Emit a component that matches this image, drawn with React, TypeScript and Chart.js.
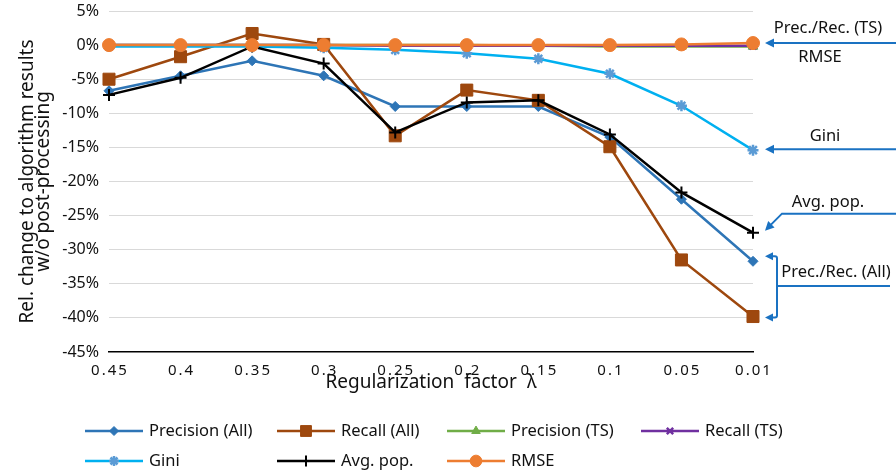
import React, { useEffect, useRef } from 'react';
import { Chart, registerables } from 'chart.js';
import { drawPoint } from 'chart.js/helpers';

Chart.register(...registerables);

// ---------- data ----------
const categories = ['0.45', '0.4', '0.35', '0.3', '0.25', '0.2', '0.15', '0.1', '0.05', '0.01'];
const precisionAll = [-6.7, -4.5, -2.3, -4.5, -9.0, -9.0, -9.0, -13.5, -22.6, -31.7];
const recallAll = [-5.0, -1.7, 1.7, 0.1, -13.3, -6.6, -8.1, -14.9, -31.5, -39.8];
const precisionTS = [0, 0, 0, 0, 0, 0, -0.1, -0.2, -0.2, -0.2];
const recallTS = [0, 0, 0, 0, -0.1, -0.1, -0.1, -0.1, -0.1, -0.1];
const gini = [-0.2, -0.2, -0.2, -0.4, -0.7, -1.2, -2.0, -4.2, -8.9, -15.4];
const avgPop = [-7.3, -4.8, -0.2, -2.7, -12.8, -8.4, -8.1, -13.1, -21.6, -27.5];
const rmse = [0, 0, 0, 0, 0, 0, 0, 0, 0.1, 0.3];

const yMin = -45;
const yMax = 5;
const yStep = 5;

const yTitle = ['Rel. change to algorithm results', 'w/o post-processing'];
const xTitle = 'Regularization  factor  λ';

// ---------- styles ----------
type SeriesStyle = {
  label: string;
  data: number[];
  line: string;
  marker: string;
  pointStyle: string;
  radius: number;
  pbw: number;
};

const series: SeriesStyle[] = [
  { label: 'Precision (All)', data: precisionAll, line: '#2E75B6', marker: '#2E75B6', pointStyle: 'rectRot', radius: 5, pbw: 1 },
  { label: 'Recall (All)', data: recallAll, line: '#9E480E', marker: '#9E480E', pointStyle: 'rect', radius: 8.5, pbw: 1 },
  { label: 'Precision (TS)', data: precisionTS, line: '#70AD47', marker: '#70AD47', pointStyle: 'triangle', radius: 5.5, pbw: 1 },
  { label: 'Recall (TS)', data: recallTS, line: '#7030A0', marker: '#7030A0', pointStyle: 'crossRot', radius: 5, pbw: 2.5 },
  { label: 'Gini', data: gini, line: '#00B0F0', marker: '#5B9BD5', pointStyle: 'star', radius: 5.5, pbw: 2.5 },
  { label: 'Avg. pop.', data: avgPop, line: '#000000', marker: '#000000', pointStyle: 'cross', radius: 6, pbw: 2 },
  { label: 'RMSE', data: rmse, line: '#ED7D31', marker: '#ED7D31', pointStyle: 'circle', radius: 6.5, pbw: 1 },
];

const FONT = '"Noto Sans", "Open Sans", sans-serif';
const ARROW = '#1A72C2';

const legendCols = [85, 277, 447, 641];
const legendRows = [431, 461];
const legendGrid = [
  [0, 0], [1, 0], [2, 0], [3, 0],
  [0, 1], [1, 1], [2, 1],
];

function arrowHead(ctx: CanvasRenderingContext2D, tipX: number, tipY: number, fromX: number, fromY: number, len = 9, half = 4.5) {
  const ang = Math.atan2(tipY - fromY, tipX - fromX);
  ctx.beginPath();
  ctx.moveTo(tipX, tipY);
  ctx.lineTo(tipX - len * Math.cos(ang) + half * Math.sin(ang), tipY - len * Math.sin(ang) - half * Math.cos(ang));
  ctx.lineTo(tipX - len * Math.cos(ang) - half * Math.sin(ang), tipY - len * Math.sin(ang) + half * Math.cos(ang));
  ctx.closePath();
  ctx.fill();
}

const extrasPlugin = {
  id: 'extras',
  afterDraw(chart: any) {
    const ctx: CanvasRenderingContext2D = chart.ctx;
    const xs = chart.scales.x;
    const ys = chart.scales.y;
    const area = chart.chartArea;

    // x tick labels (spaced)
    ctx.save();
    ctx.font = `15px ${FONT}`;
    (ctx as any).letterSpacing = '2px';
    ctx.textAlign = 'center';
    ctx.textBaseline = 'alphabetic';
    ctx.fillStyle = '#111';
    categories.forEach((c, i) => {
      ctx.fillText(c, xs.getPixelForTick(i) + 1, area.bottom + 23);
    });
    ctx.restore();

    // legend
    ctx.save();
    ctx.font = `16.5px ${FONT}`;
    ctx.textBaseline = 'middle';
    ctx.textAlign = 'left';
    series.forEach((s, i) => {
      const [c, r] = legendGrid[i];
      const x0 = legendCols[c];
      const y = legendRows[r];
      ctx.strokeStyle = s.line;
      ctx.lineWidth = 2.5;
      ctx.beginPath();
      ctx.moveTo(x0, y);
      ctx.lineTo(x0 + 58, y);
      ctx.stroke();
      ctx.fillStyle = s.marker;
      ctx.strokeStyle = s.marker;
      ctx.lineWidth = s.pbw;
      drawPoint(ctx, { pointStyle: s.pointStyle as any, radius: s.radius * 0.9, rotation: 0, borderWidth: s.pbw } as any, x0 + 29, y);
      ctx.fillStyle = '#111';
      ctx.fillText(s.label, x0 + 64, y);
    });
    ctx.restore();

    // annotations
    const lastIdx = categories.length - 1;
    const lastX = xs.getPixelForValue(lastIdx);
    const tipX = lastX + 12;
    const W = chart.width;
    ctx.save();
    ctx.strokeStyle = ARROW;
    ctx.fillStyle = ARROW;
    ctx.lineWidth = 2;

    // Prec./Rec. (TS) + RMSE arrow
    const yTS = ys.getPixelForValue(rmse[lastIdx]);
    ctx.beginPath();
    ctx.moveTo(W, yTS);
    ctx.lineTo(tipX + 8, yTS);
    ctx.stroke();
    arrowHead(ctx, tipX, yTS, W, yTS);

    // Gini arrow
    const yG = ys.getPixelForValue(gini[lastIdx]) - 1;
    ctx.beginPath();
    ctx.moveTo(W, yG);
    ctx.lineTo(tipX + 8, yG);
    ctx.stroke();
    arrowHead(ctx, tipX, yG, W, yG);

    // Avg. pop. arrow (elbow)
    const yA = ys.getPixelForValue(avgPop[lastIdx]) - 2;
    const elbowX = tipX + 17;
    const elbowY = yA - 17;
    ctx.beginPath();
    ctx.moveTo(W, elbowY);
    ctx.lineTo(elbowX, elbowY);
    ctx.lineTo(tipX + 6, yA - 6);
    ctx.stroke();
    arrowHead(ctx, tipX, yA, elbowX, elbowY);

    // Prec./Rec. (All) bracket
    const yTop = ys.getPixelForValue(precisionAll[lastIdx]) - 5;
    const yBot = ys.getPixelForValue(recallAll[lastIdx]) + 1;
    const bx = tipX + 12;
    const yMid = (yTop + yBot) / 2 - 1;
    ctx.beginPath();
    ctx.moveTo(tipX + 7, yTop);
    ctx.lineTo(bx - 2, yTop);
    ctx.quadraticCurveTo(bx, yTop, bx, yTop + 2);
    ctx.lineTo(bx, yBot - 2);
    ctx.quadraticCurveTo(bx, yBot, bx - 2, yBot);
    ctx.lineTo(tipX + 7, yBot);
    ctx.stroke();
    arrowHead(ctx, tipX, yTop, bx, yTop, 8, 4);
    arrowHead(ctx, tipX, yBot, bx, yBot, 8, 4);
    ctx.beginPath();
    ctx.moveTo(bx, yMid);
    ctx.lineTo(W - 6, yMid);
    ctx.stroke();

    // labels
    ctx.fillStyle = '#111';
    ctx.font = `16.5px ${FONT}`;
    ctx.textAlign = 'center';
    ctx.textBaseline = 'middle';
    ctx.fillText('Prec./Rec. (TS)', 828, yTS - 15);
    ctx.fillText('RMSE', 820, yTS + 14);
    ctx.fillText('Gini', 825, yG - 13);
    ctx.fillText('Avg. pop.', 828, elbowY - 11);
    ctx.fillText('Prec./Rec. (All)', 836, yMid - 14);
    ctx.restore();
  },
};

export default function App() {
  const ref = useRef<HTMLCanvasElement | null>(null);

  useEffect(() => {
    if (!ref.current) return;
    const chart = new Chart(ref.current, {
      type: 'line',
      data: {
        labels: categories,
        datasets: series.map((s, i) => ({
          label: s.label,
          data: s.data,
          borderColor: s.line,
          backgroundColor: s.marker,
          borderWidth: 2.5,
          pointStyle: s.pointStyle as any,
          pointRadius: s.radius,
          pointBackgroundColor: s.marker,
          pointBorderColor: s.marker,
          pointBorderWidth: s.pbw,
          tension: 0,
          fill: false,
          order: series.length - i,
        })),
      },
      options: {
        animation: false,
        responsive: false,
        devicePixelRatio: 1,
        layout: { padding: { left: 0, right: 143, top: 11, bottom: 78 } },
        plugins: {
          legend: { display: false },
          tooltip: { enabled: false },
        },
        scales: {
          x: {
            type: 'category',
            offset: false,
            grid: { display: false, drawTicks: false },
            border: { display: true, color: '#000', width: 1.5 },
            ticks: { display: false },
            title: {
              display: true,
              text: xTitle,
              color: '#111',
              font: { family: FONT, size: 19 },
              padding: { top: 0, bottom: 1 },
            },
            afterFit: (s: any) => {
              s.height = 43;
              s.paddingLeft = 0;
              s.paddingRight = 0;
            },
          },
          y: {
            type: 'linear',
            min: yMin,
            max: yMax,
            ticks: {
              stepSize: yStep,
              callback: (v: any) => `${v}%`,
              color: '#111',
              font: { family: FONT, size: 16 },
              padding: 10,
            },
            grid: {
              drawTicks: false,
              lineWidth: 1,
              color: (c: any) => (c.tick && c.tick.value === yMin ? 'rgba(0,0,0,0)' : '#D9D9D9'),
            },
            border: { display: false },
            title: {
              display: true,
              text: yTitle,
              color: '#111',
              font: { family: FONT, size: 19, lineHeight: 0.84 },
              padding: { top: 20, bottom: 0 },
            },
            afterFit: (s: any) => {
              s.width = 109;
              s.paddingTop = 0;
              s.paddingBottom = 0;
            },
          },
        },
      } as any,
      plugins: [extrasPlugin],
    });
    return () => chart.destroy();
  }, []);

  return (
    <div style={{ position: 'absolute', left: 0, top: 0, width: 896, height: 473, background: '#fff' }}>
      <canvas ref={ref} width={896} height={473} style={{ display: 'block', width: 896, height: 473 }} />
    </div>
  );
}
